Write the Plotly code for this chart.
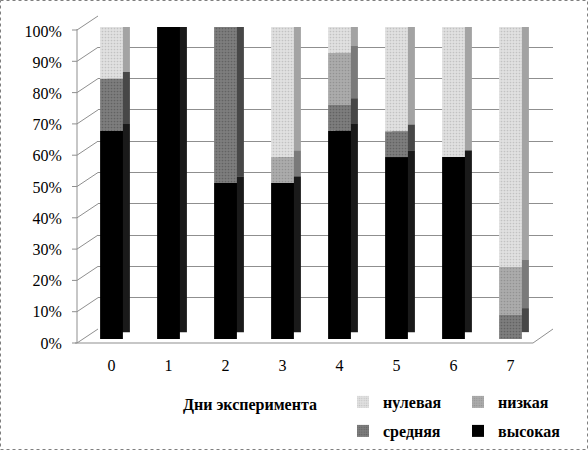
import plotly.graph_objects as go

days = ["0", "1", "2", "3", "4", "5", "6", "7"]
vysokaya = [66.7, 100, 50, 50, 66.7, 58.3, 58.3, 0]
srednyaya = [16.7, 0, 50, 0, 8.3, 8.3, 0, 7.7]
nizkaya = [0, 0, 0, 8.3, 16.7, 0, 0, 15.4]
nulevaya = [16.6, 0, 0, 41.7, 8.3, 33.4, 41.7, 76.9]

W, H = 588, 450


def px(x):
    return x / W


def py(y):
    return 1 - y / H


# name, values, front colour, side colour
series = [
    ("высокая", vysokaya, "#000000", "#1a1a1a"),
    ("средняя", srednyaya, "#7d7d7d", "#474747"),
    ("низкая", nizkaya, "#ababab", "#7a7a7a"),
    ("нулевая", nulevaya, "#e0e0e0", "#a3a3a3"),
]

xs = list(range(len(days)))
bases = []
run = [0.0] * len(days)
for _, vals, _, _ in series:
    bases.append(list(run))
    run = [r + v for r, v in zip(run, vals)]

bar_w = 0.40
depth_x = 0.123
depth_y = 2.2

fig = go.Figure()

# empty trace so the back-wall subplot (gridlines) gets drawn
fig.add_trace(go.Scatter(x=[None], y=[None], xaxis="x", yaxis="y",
                         showlegend=False, hoverinfo="skip"))

# side / top faces (drawn first, shifted back)
for (name, vals, front, side), base in zip(series, bases):
    fig.add_trace(go.Bar(
        x=xs, y=vals, base=[b + depth_y for b in base],
        width=bar_w, offset=-bar_w / 2 + depth_x,
        marker=dict(color=side, line=dict(width=0)),
        xaxis="x2", yaxis="y2", showlegend=False, hoverinfo="skip",
    ))

# front faces
for (name, vals, front, side), base in zip(series, bases):
    fig.add_trace(go.Bar(
        x=xs, y=vals, base=base, name=name,
        width=bar_w, offset=-bar_w / 2,
        marker=dict(color=front, line=dict(width=0),
                    pattern=dict(shape=".", size=3, solidity=0.25,
                                 fgcolor=side, bgcolor=front)
                    if name in ("нулевая", "низкая", "средняя") else None),
        xaxis="x2", yaxis="y2",
        legend="legend" if name in ("нулевая", "низкая") else "legend2",
    ))

serif = "Liberation Serif"
font = dict(family=serif, size=16, color="#000000")
grid_col = "#8f8f8f"

shapes = []
# left wall: front axis, small ticks and diagonals to back wall
shapes.append(dict(type="line", xref="paper", yref="paper",
                   x0=px(77), x1=px(77), y0=py(29), y1=py(343),
                   line=dict(color=grid_col, width=1)))
for v in range(0, 101, 10):
    yf = 343 - v * 3.13
    shapes.append(dict(type="line", xref="paper", yref="paper",
                       x0=px(77), y0=py(yf), x1=px(98), y1=py(329 - v * 3.13),
                       line=dict(color=grid_col, width=1)))
    shapes.append(dict(type="line", xref="paper", yref="paper",
                       x0=px(72), y0=py(yf), x1=px(77), y1=py(yf),
                       line=dict(color=grid_col, width=1)))
# floor
shapes.append(dict(type="line", xref="paper", yref="paper",
                   x0=px(75), x1=px(533), y0=py(343), y1=py(343),
                   line=dict(color=grid_col, width=1)))
shapes.append(dict(type="line", xref="paper", yref="paper",
                   x0=px(533), x1=px(553), y0=py(343), y1=py(329),
                   line=dict(color=grid_col, width=1)))
# outer dotted border
shapes.append(dict(type="rect", xref="paper", yref="paper",
                   x0=px(0.5), x1=px(587.5), y0=py(0.5), y1=py(449.5),
                   line=dict(color="#7f7f7f", width=1, dash="dot")))

legend_common = dict(
    orientation="h", xanchor="left", yanchor="top",
    entrywidth=70, entrywidthmode="pixels", traceorder="reversed",
    font=dict(family=serif, size=16, color="#000000", weight="bold"),
    bgcolor="rgba(0,0,0,0)", itemclick=False,
)

fig.update_layout(
    width=W, height=H,
    margin=dict(l=0, r=0, t=0, b=0, autoexpand=False),
    paper_bgcolor="white", plot_bgcolor="rgba(0,0,0,0)",
    barmode="overlay",
    font=font,
    # back wall with gridlines
    xaxis=dict(domain=[px(98), px(553)], range=[-0.5, 7.5], visible=False,
               anchor="y"),
    yaxis=dict(domain=[py(329), py(16)], range=[0, 100], dtick=10,
               showgrid=True, gridcolor=grid_col, gridwidth=1,
               showticklabels=False, zeroline=False, showline=False,
               ticks="", anchor="x"),
    # bars
    xaxis2=dict(domain=[px(83), px(539)], range=[-0.5, 7.5], anchor="y2",
                tickvals=xs, ticktext=days, showgrid=False, zeroline=False,
                showline=False, ticks="outside", ticklen=12,
                tickcolor="rgba(0,0,0,0)", tickfont=font),
    yaxis2=dict(domain=[py(339), py(27)], range=[0, 100], anchor="x2",
                tickvals=list(range(0, 101, 10)),
                ticktext=[f"{v}%" for v in range(0, 101, 10)],
                showgrid=False, zeroline=False, showline=False,
                ticks="outside", ticklen=17, tickcolor="rgba(0,0,0,0)",
                ticklabelshift=4, tickfont=font),
    legend=dict(x=px(343), y=py(385), **legend_common),
    legend2=dict(x=px(343), y=py(414), **legend_common),
    shapes=shapes,
    annotations=[dict(
        text="<b>Дни эксперимента</b>", xref="paper", yref="paper",
        x=px(250), y=py(405), xanchor="center", yanchor="middle",
        showarrow=False,
        font=dict(family=serif, size=16, color="#000000"),
    )],
)

fig.write_html("out.html", config={"displayModeBar": False},
               post_script="document.body.style.margin='0';")
